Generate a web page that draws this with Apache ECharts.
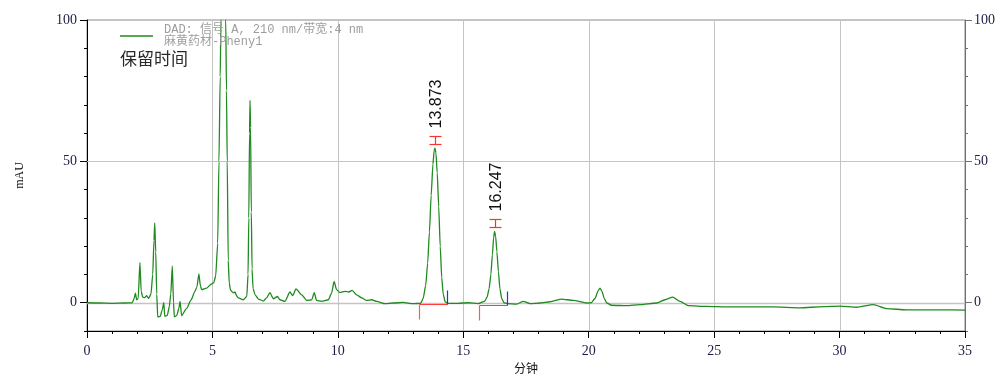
<!DOCTYPE html>
<html><head><meta charset="utf-8">
<script src="https://cdn.jsdelivr.net/npm/echarts@6/dist/echarts.min.js"></script>
<style>html,body{margin:0;padding:0;background:#fff}#c{width:1005px;height:381px}</style>
</head><body><div id="c"></div>
<script>
// retention time (min)
const times = [0,0.5,1.0,1.5,1.8,1.88,1.93,1.98,2.04,2.11,2.16,2.22,2.30,2.38,2.45,2.55,2.62,2.67,2.70,2.74,2.78,2.82,2.92,3.00,3.06,3.10,3.20,3.28,3.34,3.40,3.45,3.48,3.58,3.66,3.71,3.77,3.97,4.15,4.30,4.38,4.46,4.52,4.57,4.77,4.97,5.05,5.13,5.21,5.26,5.31,5.34,5.38,5.44,5.49,5.53,5.56,5.59,5.63,5.67,5.72,5.77,5.84,5.90,5.96,6.03,6.23,6.37,6.42,6.45,6.48,6.50,6.52,6.55,6.58,6.62,6.70,6.83,7.03,7.16,7.29,7.43,7.59,7.69,7.89,8.09,8.20,8.33,8.56,8.76,8.96,9.06,9.15,9.35,9.62,9.75,9.85,9.95,10.08,10.28,10.44,10.57,10.75,10.95,11.15,11.35,11.55,11.88,12.2,12.6,13.0,13.30,13.40,13.50,13.58,13.65,13.72,13.79,13.84,13.873,13.91,13.96,14.02,14.08,14.14,14.20,14.28,14.40,14.8,15.2,15.6,15.85,15.95,16.03,16.10,16.16,16.21,16.247,16.29,16.34,16.40,16.46,16.53,16.62,16.75,17.13,17.39,17.66,18.06,18.46,18.92,19.39,19.92,20.10,20.25,20.38,20.45,20.53,20.62,20.72,20.91,21.51,22.04,22.71,23.04,23.35,23.64,23.97,24.70,25.50,26.30,27.36,28.42,29.35,30.02,30.68,31.35,31.88,32.67,34.00,35.0];
// signal (mAU)
const signal = [0,-0.1,-0.2,-0.1,0,1.5,3.4,1.0,1.5,14.2,4,2.0,1.8,2.5,1.5,3,10,22,28.2,18,3,-5.1,-4.8,-2.5,0,-4.8,-4.5,-1.4,3,13,0,-5,-4.5,-2,0.5,-4.6,-2,1.0,4.0,5.5,10.2,6,4.6,5.2,6.7,7,9.5,21,50,80,100,130,145,130,100,75,50,15,7,4.5,4,3.5,3.8,2.5,1.7,1.06,2.2,10,30,60,71.6,62,32,12,5,2.8,1.3,0.6,1.7,3.6,1.4,2.2,1.06,0.5,3.8,2.5,4.9,2.8,0.8,1.06,3.6,0.8,0.5,1.06,3.4,7.5,4.6,3.6,4.0,3.8,4.4,2.8,1.7,0.8,1.06,0.5,-0.35,-0.1,0.1,-0.35,-0.2,1.5,6,14,25,38,49,54,54.7,53,46,34,20,9,3,0.3,-0.2,-0.2,0,-0.3,0.5,2,5,10,17,23,25.2,23.5,18,11,5,1.5,0,-0.3,-0.5,0.5,-0.3,-0.1,0.35,1.3,0.8,-0.1,0,1.5,4.3,5.2,4,1.5,-0.1,-0.9,-1.06,-0.7,-0.1,1.06,2.0,0.5,-1.06,-1.3,-1.5,-1.5,-1.5,-1.8,-1.4,-1.2,-1.6,-0.7,-2.1,-2.5,-2.5,-2.6];
// annotated peaks
const peakTimes = [13.873, 16.247];
const peakHeights = [54.7, 25.2];
const peakLabels = ['13.873', '16.247'];
// integration baselines
const integStart = [13.24, 15.61];
const integEnd = [14.35, 16.75];
const baseLevel = [-0.5, -0.8];
// grid lines
const gridX = [5, 10, 15, 20, 25, 30];
const gridY = [0, 50];
// axis tick labels
const xTicks = [0, 5, 10, 15, 20, 25, 30, 35];
const yMajor = [0, 50, 100];

const legendName = 'DAD: 信号 A, 210 nm/带宽:4 nm\n麻黄药材-Pheny1';
const labelColor = '#1c1c44';
const serif = "'Liberation Serif', 'DejaVu Serif', serif";

const chart = echarts.init(document.getElementById('c'), null, {renderer: 'canvas'});

function yAxisBase(pos, lineColor, minorOnly) {
  return {
    type: 'value', position: pos, min: -10, max: 100, interval: 10,
    axisLine: {show: minorOnly, lineStyle: {color: lineColor, width: 1}},
    axisTick: minorOnly ? {show: true, length: 3, inside: false, lineStyle: {color: lineColor}}
                        : {show: true, length: 7, customValues: yMajor, lineStyle: {color: lineColor}},
    axisLabel: minorOnly ? {show: false}
                         : {show: true, customValues: yMajor, margin: pos === 'left' ? 10 : 9,
                            color: labelColor, fontFamily: serif, fontSize: 14},
    splitLine: {show: false}
  };
}

const yAxes = [
  yAxisBase('left', '#000', true),
  Object.assign(yAxisBase('left', '#000', false), {name: 'mAU', nameLocation: 'middle', nameGap: 61,
    nameTextStyle: {fontFamily: serif, fontSize: 12, color: '#111'}}),
  yAxisBase('right', '#707070', true),
  yAxisBase('right', '#707070', false)
];

const option = {
  animation: false,
  backgroundColor: '#fff',
  grid: {left: 87, right: 40, top: 20, bottom: 50, show: true, borderColor: '#8a8a8a', borderWidth: 1, backgroundColor: 'transparent'},
  title: {text: '保留时间', left: 120, top: 50, padding: 0,
    textStyle: {fontFamily: "'Noto Sans CJK SC', sans-serif", fontSize: 17, fontWeight: 'normal', color: '#2a2a2a'}},
  legend: {show: true, left: 120, top: 24, padding: 0, selectedMode: false,
    icon: 'rect', itemWidth: 33, itemHeight: 1.5,
    data: [legendName],
    textStyle: {fontFamily: "'Liberation Mono', 'Noto Sans CJK SC', monospace", fontSize: 12, color: '#9e9e9e',
      lineHeight: 12, padding: [0, 0, 0, 6]}},
  xAxis: {
    type: 'value', min: 0, max: 35, interval: 5,
    name: '分钟', nameLocation: 'middle', nameGap: 30,
    nameTextStyle: {fontFamily: "'Noto Sans CJK SC', sans-serif", fontSize: 12, color: '#111'},
    axisLine: {show: true, onZero: false, lineStyle: {color: '#000', width: 1}},
    axisTick: {show: true, length: 7, lineStyle: {color: '#000'}},
    minorTick: {show: true, splitNumber: 5, length: 3, lineStyle: {color: '#000'}},
    axisLabel: {color: labelColor, fontFamily: serif, fontSize: 14, margin: 13},
    splitLine: {show: false}
  },
  yAxis: yAxes,
  series: [
    {
      type: 'custom', name: 'gridlines', z: 1, silent: true,
      data: [[0, 0]],
      renderItem: function (params, api) {
        const cs = params.coordSys;
        const children = [];
        gridX.forEach(function (v) {
          const x = Math.round(api.coord([v, 0])[0]) + 0.5;
          children.push({type: 'line', shape: {x1: x, y1: cs.y, x2: x, y2: cs.y + cs.height},
            style: {stroke: '#c4c4c4', lineWidth: 1}});
        });
        gridY.forEach(function (v) {
          const y = Math.round(api.coord([0, v])[1]) + 0.5;
          children.push({type: 'line', shape: {x1: cs.x, y1: y, x2: cs.x + cs.width, y2: y},
            style: {stroke: '#c4c4c4', lineWidth: v === 0 ? 1.6 : 1}});
        });
        return {type: 'group', children: children};
      }
    },
    {
      type: 'line', name: legendName, z: 3,
      data: times.map(function (t, i) { return [t, signal[i]]; }),
      showSymbol: false, symbol: 'none', smooth: 0.2, smoothMonotone: 'x', clip: true,
      lineStyle: {color: '#1f8a1f', width: 1.3},
      itemStyle: {color: '#1f8a1f'}
    },
    {
      type: 'custom', name: 'baselines', z: 4, silent: true,
      data: integStart.map(function (s, i) { return [s, integEnd[i], baseLevel[i]]; }),
      renderItem: function (params, api) {
        const a = api.coord([api.value(0), api.value(2)]);
        const b = api.coord([api.value(1), api.value(2)]);
        const xa = Math.round(a[0]) + 0.5, xb = Math.round(b[0]) + 0.5, y = Math.round(a[1]) + 0.5;
        return {type: 'group', children: [
          {type: 'line', shape: {x1: xa, y1: y, x2: xb, y2: y}, style: {stroke: '#ff3b3b', lineWidth: 1}},
          {type: 'line', shape: {x1: xa, y1: y, x2: xa, y2: y + 15}, style: {stroke: '#ff5a5a', lineWidth: 1.2}},
          {type: 'line', shape: {x1: xb, y1: y, x2: xb, y2: y - 14}, style: {stroke: '#2a2aff', lineWidth: 1.2}}
        ]};
      }
    },
    {
      type: 'custom', name: 'peaks', z: 5, silent: true,
      data: peakTimes.map(function (t, i) { return [t, peakHeights[i], i]; }),
      renderItem: function (params, api) {
        const p = api.coord([api.value(0), api.value(1)]);
        const x = Math.round(p[0]) + 0.5;
        const bot = Math.round(p[1] - 4) + 0.5;
        const top = bot - 8;
        const idx = api.value(2);
        return {type: 'group', children: [
          {type: 'line', shape: {x1: x, y1: top, x2: x, y2: bot}, style: {stroke: '#ff3030', lineWidth: 1.2}},
          {type: 'line', shape: {x1: x - 6, y1: top, x2: x + 6, y2: top}, style: {stroke: '#ff3030', lineWidth: 1.2}},
          {type: 'line', shape: {x1: x - 6, y1: bot, x2: x + 6, y2: bot}, style: {stroke: '#ff3030', lineWidth: 1.2}},
          {type: 'text', x: x + 1, y: top - 8, rotation: Math.PI / 2,
            style: {text: peakLabels[idx], fill: '#111', fontSize: 16,
              fontFamily: "'Liberation Sans', Arial, sans-serif", align: 'left', verticalAlign: 'middle'}}
        ]};
      }
    }
  ]
};
chart.setOption(option);
</script></body></html>
